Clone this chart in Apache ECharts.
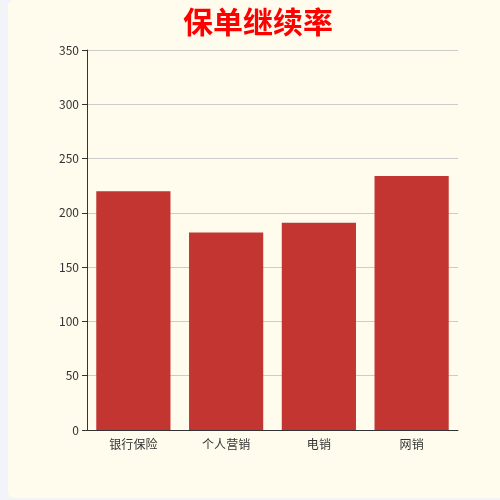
<!DOCTYPE html>
<html>
<head>
<meta charset="utf-8">
<title>保单继续率</title>
<script src="https://cdn.jsdelivr.net/npm/echarts@6/dist/echarts.min.js"></script>
<style>
  html, body { margin: 0; padding: 0; overflow: hidden; background: #f3f4f9; }
  #main {
    position: absolute; left: 8px; top: 0;
    width: 500px; height: 498px;
    background: #fffcee; border-radius: 6px;
  }
</style>
</head>
<body>
<div id="main"></div>
<script>
  // chart data
  const categories = ["银行保险", "个人营销", "电销", "网销"];
  const values = [220, 182, 191, 234];
  const yTicks = { min: 0, max: 350, interval: 50 };

  const chart = echarts.init(document.getElementById("main"));
  chart.setOption({
    animation: false,
    textStyle: { fontFamily: "'Noto Sans CJK SC', 'Noto Sans', sans-serif" },
    title: {
      text: "保单继续率",
      left: "center",
      top: 2,
      textStyle: { color: "#ff0000", fontSize: 30, fontWeight: "bold" },
    },
    grid: { left: 79, right: 50, top: 50, bottom: 68 },
    xAxis: {
      type: "category",
      data: categories,
      axisLine: { lineStyle: { color: "#333" } },
      axisLabel: { color: "#333", fontSize: 12 },
    },
    yAxis: {
      type: "value",
      min: yTicks.min,
      max: yTicks.max,
      interval: yTicks.interval,
      axisLine: { show: true, lineStyle: { color: "#333" } },
      axisTick: { show: true },
      axisLabel: { color: "#333", fontSize: 12 },
      splitLine: { lineStyle: { color: "#ccc" } },
    },
    series: [
      {
        type: "bar",
        data: values,
        barCategoryGap: "20%",
        itemStyle: { color: "#c23531" },
      },
    ],
  });
</script>
</body>
</html>
